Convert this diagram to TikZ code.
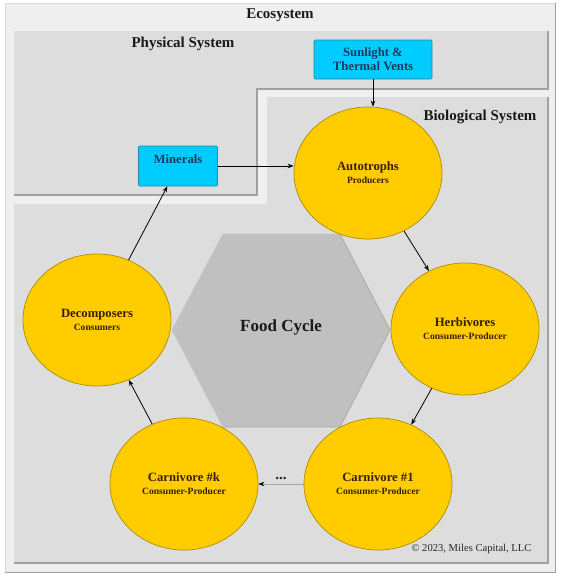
\documentclass[tikz,border=0pt]{standalone}
\usepackage{fontspec}
\setmainfont{Liberation Serif}
\usetikzlibrary{shapes.geometric,arrows.meta}
\definecolor{ecoback}{HTML}{EFEFEF}
\definecolor{panel}{HTML}{DDDDDD}
\definecolor{paneledge}{HTML}{A0A0A0}
\definecolor{gold}{HTML}{FFCC00}
\definecolor{goldedge}{HTML}{B08C00}
\definecolor{sky}{HTML}{00CCFF}
\definecolor{skyedge}{HTML}{2E86A8}
\definecolor{navy}{HTML}{1F3A60}
\definecolor{earth}{HTML}{3A1E00}
\definecolor{hexfill}{HTML}{C0C0C0}
\newcommand{\role}[1]{{\fontsize{9.6}{13}\selectfont #1}}
\begin{document}
\begin{tikzpicture}[x=1pt,y=-1pt,
  organism/.style={ellipse,fill=gold,draw=goldedge,line width=0.7pt,
    minimum width=148pt,minimum height=132pt,inner sep=0pt,align=center,
    text=earth,font=\fontsize{12.7}{13}\selectfont\bfseries},
  source/.style={rectangle,fill=sky,draw=skyedge,line width=0.6pt,rounded corners=1pt,
    inner sep=0pt,align=center,text=navy,font=\fontsize{12.7}{14}\selectfont\bfseries},
  system/.style={text=black!90,font=\fontsize{15}{17}\selectfont\bfseries},
  flow/.style={-{Stealth[length=6pt,width=4.5pt]},line width=0.8pt}]
  \useasboundingbox (0,0) rectangle (560,576);
  \fill[white] (0,0) rectangle (560,576);
  \fill[ecoback] (5,3) rectangle (555,572);
  \draw[gray!30] (5,572) -- (5,3) -- (555,3);
  \draw[paneledge,line width=1pt] (5,572) -- (555,572) -- (555,3);
  \fill[panel] (14,31) -- (548,31) -- (548,89) -- (257,89) -- (257,195) -- (14,195) -- cycle;
  \draw[paneledge,line width=1.1pt] (548,31) -- (548,89) -- (257,89) -- (257,195) -- (14,195);
  \fill[panel] (267,97) -- (548,97) -- (548,563) -- (14,563) -- (14,204) -- (267,204) -- cycle;
  \draw[paneledge,line width=1.1pt] (548,97) -- (548,563) -- (14,563);
  \filldraw[fill=hexfill,draw=hexfill] (223,234) -- (340,234) -- (390,330) -- (340,427) -- (223,427) -- (172,330) -- cycle;
  \draw[gray!65,line width=0.8pt] (340,234) -- (390,330) -- (340,427) -- (223,427);

  \node[system] (eco) at (280,15) {Ecosystem};
  \node[system] (phys) at (183,44) {Physical System};
  \node[system] (bio) at (480,117) {Biological System};
  \node[font=\fontsize{17}{19}\selectfont\bfseries,text=black!90] (food) at (281,327) {Food Cycle};

  \node[source,minimum width=118pt,minimum height=39pt] (sun) at (373,59.5) {Sunlight \&\\Thermal Vents};
  \node[source,minimum width=79pt,minimum height=40pt] (min) at (178,166) {Minerals\\\mbox{}};

  \node[organism] (auto) at (368,173) {Autotrophs\\\role{Producers}};
  \node[organism] (herb) at (465,329) {Herbivores\\\role{Consumer-Producer}};
  \node[organism] (carn1) at (378,484) {Carnivore \#1\\\role{Consumer-Producer}};
  \node[organism] (carnk) at (184,484) {Carnivore \#k\\\role{Consumer-Producer}};
  \node[organism] (decomp) at (97,320) {Decomposers\\\role{Consumers}};

  \draw[flow] (sun.south) -- (sun.south |- auto.north);
  \draw[flow] (min.east) -- (min.east -| auto.west);
  \draw[flow] (auto) -- (herb);
  \draw[flow] (herb) -- (carn1);
  \draw[-{Stealth[length=6pt,width=4.5pt,color=black]},line width=0.8pt,draw=gray!70]
    (carn1.west) -- node[above=1pt,font=\fontsize{15}{15}\selectfont\bfseries,text=black!85] {...} (carnk.east);
  \draw[flow] (carnk) -- (decomp);
  \draw[flow] (decomp) -- (min);

  \node[anchor=east,font=\fontsize{10.6}{12}\selectfont,text=black!85] (copy) at (535,549) {© 2023, Miles Capital, LLC};
\end{tikzpicture}
\end{document}
